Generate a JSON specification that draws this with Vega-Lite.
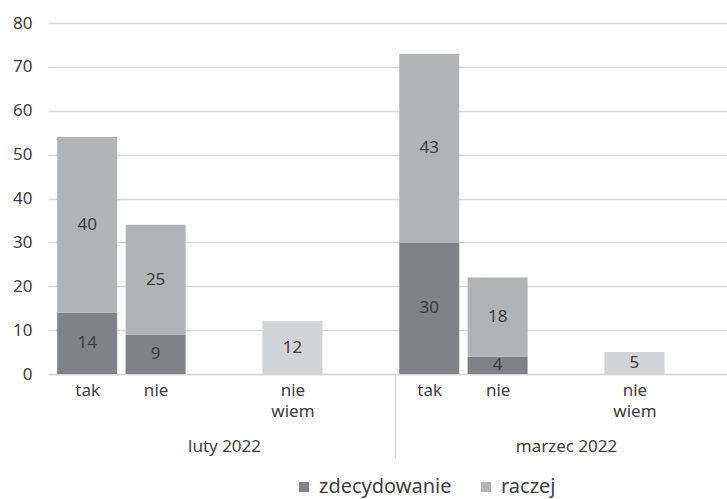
{
  "$schema": "https://vega.github.io/schema/vega-lite/v6.json",
  "autosize": {"type": "none"},
  "padding": {"left": 48, "top": 23, "right": 0, "bottom": 125},
  "width": 679,
  "height": 351,
  "background": "white",
  "config": {
    "view": {"stroke": null},
    "font": "Noto Sans",
    "axis": {"labelFont": "Noto Sans", "labelColor": "#404040"},
    "legend": {"labelFont": "Noto Sans", "labelColor": "#404040"}
  },
  "data": {
    "values": [
      {"grupa": "luty 2022", "kategoria": "tak", "slot": 0, "seria": "zdecydowanie", "wartosc": 14},
      {"grupa": "luty 2022", "kategoria": "tak", "slot": 0, "seria": "raczej", "wartosc": 40},
      {"grupa": "luty 2022", "kategoria": "nie", "slot": 1, "seria": "zdecydowanie", "wartosc": 9},
      {"grupa": "luty 2022", "kategoria": "nie", "slot": 1, "seria": "raczej", "wartosc": 25},
      {"grupa": "luty 2022", "kategoria": "nie wiem", "slot": 3, "seria": "nie wiem", "wartosc": 12},
      {"grupa": "marzec 2022", "kategoria": "tak", "slot": 5, "seria": "zdecydowanie", "wartosc": 30},
      {"grupa": "marzec 2022", "kategoria": "tak", "slot": 5, "seria": "raczej", "wartosc": 43},
      {"grupa": "marzec 2022", "kategoria": "nie", "slot": 6, "seria": "zdecydowanie", "wartosc": 4},
      {"grupa": "marzec 2022", "kategoria": "nie", "slot": 6, "seria": "raczej", "wartosc": 18},
      {"grupa": "marzec 2022", "kategoria": "nie wiem", "slot": 8, "seria": "nie wiem", "wartosc": 5}
    ]
  },
  "resolve": {"axis": {"x": "independent"}},
  "layer": [
    {
      "mark": {"type": "bar", "width": 60},
      "encoding": {
        "x": {
          "field": "slot", "type": "quantitative",
          "scale": {"domain": [-0.5, 9.28], "nice": false, "zero": false},
          "axis": {
            "orient": "bottom",
            "title": null,
            "values": [0, 1, 3, 5, 6, 8],
            "labelExpr": "datum.value == 0 || datum.value == 5 ? 'tak' : (datum.value == 1 || datum.value == 6 ? 'nie' : ['nie', 'wiem'])",
            "labelFontSize": 17,
            "labelLineHeight": 21,
            "labelPadding": 8,
            "ticks": false,
            "grid": false,
            "domain": true,
            "domainColor": "#D9D9D9",
            "domainWidth": 1.5
          }
        },
        "y": {
          "field": "wartosc", "type": "quantitative", "stack": "zero",
          "scale": {"domain": [0, 80], "nice": false},
          "axis": {
            "title": null,
            "values": [0, 10, 20, 30, 40, 50, 60, 70, 80],
            "labelFontSize": 17,
            "labelPadding": 16,
            "ticks": false,
            "domain": false,
            "grid": true,
            "gridColor": "#D9D9D9",
            "gridWidth": 1.5
          }
        },
        "color": {
          "field": "seria", "type": "nominal",
          "scale": {"domain": ["zdecydowanie", "raczej", "nie wiem"], "range": ["#808285", "#B1B3B4", "#D1D3D4"]},
          "legend": {
            "values": ["zdecydowanie", "raczej"],
            "title": null,
            "orient": "none",
            "direction": "horizontal",
            "legendX": 246,
            "legendY": 454,
            "symbolType": "square",
            "symbolSize": 100,
            "symbolStrokeWidth": 0,
            "labelFontSize": 20,
            "labelOffset": 5,
            "columnPadding": 24
          }
        },
        "order": {"field": "seria", "sort": "descending"}
      }
    },
    {
      "transform": [
        {"stack": "wartosc", "groupby": ["slot"], "sort": [{"field": "seria", "order": "descending"}], "as": ["y0", "y1"]},
        {"calculate": "(datum.y0 + datum.y1) / 2", "as": "srodek"}
      ],
      "mark": {"type": "text", "fontSize": 17, "color": "#404040", "baseline": "middle"},
      "encoding": {
        "x": {
          "field": "slot", "type": "quantitative",
          "axis": {
            "orient": "bottom",
            "title": null,
            "values": [2, 4.5, 7],
            "labelExpr": "datum.value == 2 ? 'luty 2022' : (datum.value == 7 ? 'marzec 2022' : '')",
            "labelFontSize": 17,
            "labelPadding": -20,
            "ticks": true,
            "tickSize": 84,
            "tickColor": "#D9D9D9",
            "tickWidth": 1.5,
            "tickOpacity": {"condition": {"test": "datum.value == 4.5", "value": 1}, "value": 0},
            "grid": false,
            "domain": false
          }
        },
        "y": {"field": "srodek", "type": "quantitative"},
        "text": {"field": "wartosc", "type": "quantitative"}
      }
    }
  ]
}
